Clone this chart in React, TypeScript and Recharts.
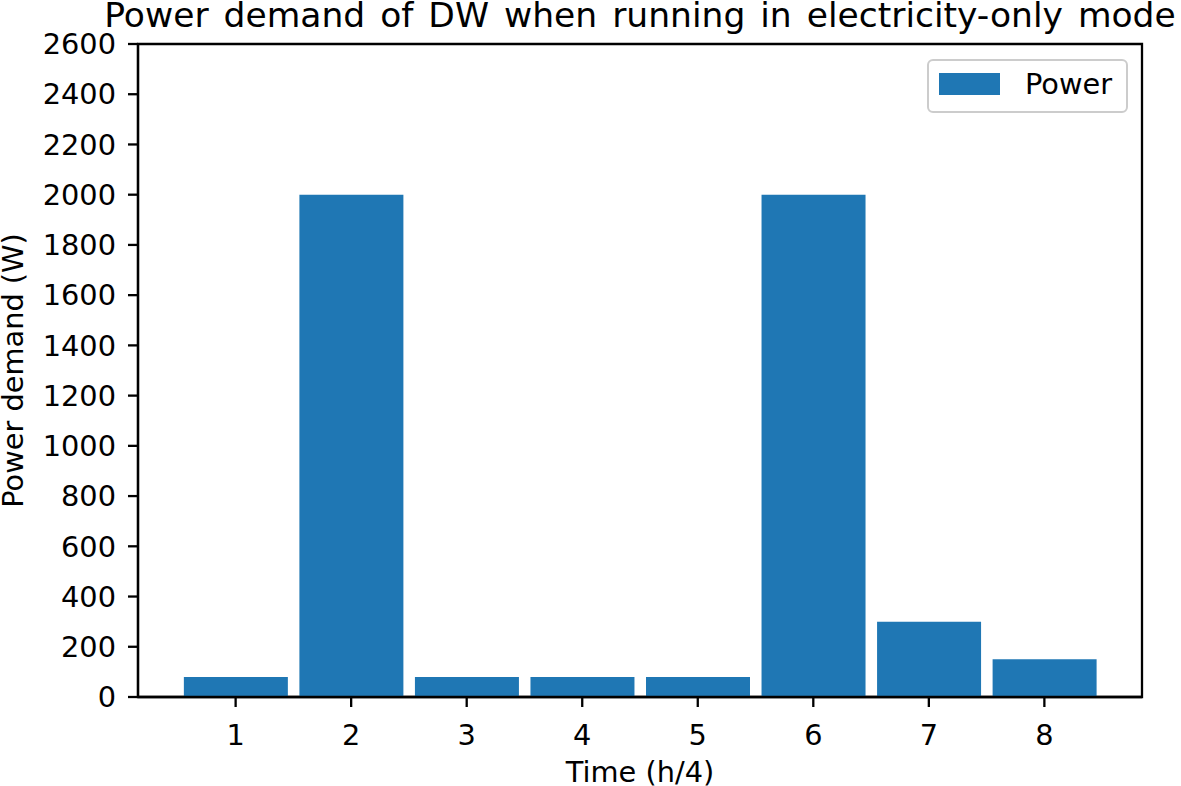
import React from 'react';
import { BarChart, Bar, XAxis, YAxis, Legend, Label, ReferenceArea } from 'recharts';

const timeSlots = [1, 2, 3, 4, 5, 6, 7, 8];
const powerValues = [80, 2000, 80, 80, 80, 2000, 300, 150];
const yTicks = [0, 200, 400, 600, 800, 1000, 1200, 1400, 1600, 1800, 2000, 2200, 2400, 2600];
const xTicks = [1, 2, 3, 4, 5, 6, 7, 8];
const seriesName = 'Power';
const titleText = 'Power demand of DW when running in electricity-only mode';
const xLabel = 'Time (h/4)';
const yLabel = 'Power demand (W)';

const data = timeSlots.map((t, i) => ({ t, power: powerValues[i] }));

const FONT = '"DejaVu Sans", sans-serif';
const BLUE = '#1f77b4';

const LegendBox = () => (
  <div
    style={{
      position: 'relative',
      boxSizing: 'border-box',
      width: 201,
      height: 54,
      border: '2px solid #cccccc',
      borderRadius: 6,
      background: 'rgba(255,255,255,0.8)',
      fontFamily: FONT,
    }}
  >
    <div style={{ position: 'absolute', left: 10, top: 12, width: 61, height: 22, background: BLUE }} />
    <div
      style={{
        position: 'absolute',
        left: 96,
        top: 8,
        fontSize: 28.8,
        lineHeight: '30px',
        color: '#000',
        whiteSpace: 'nowrap',
      }}
    >
      {seriesName}
    </div>
  </div>
);

export default function App() {
  return (
    <div style={{ position: 'absolute', left: 0, top: 0, width: 1181, height: 786, background: '#fff' }}>
      <BarChart
        width={1181}
        height={786}
        data={data}
        margin={{ top: 44, right: 39, bottom: 0, left: 0 }}
        barCategoryGap="10%"
      >
        <text
          x={640}
          y={27}
          textAnchor="middle"
          fontFamily={FONT}
          fontSize={34.5}
          fill="#000"
          style={{ wordSpacing: '4px' }}
        >
          {titleText}
        </text>
        <XAxis
          dataKey="t"
          type="number"
          domain={[0.155, 8.845]}
          ticks={xTicks}
          allowDataOverflow
          height={89}
          tickSize={10}
          tickMargin={18}
          axisLine={{ stroke: '#000', strokeWidth: 2.3 }}
          tickLine={{ stroke: '#000', strokeWidth: 2.3 }}
          tick={{ fill: '#000', fontSize: 28.8, fontFamily: FONT }}
          interval={0}
        >
          <Label
            content={(props: any) => {
              const vb = props.viewBox || { x: 138, y: 697, width: 1004, height: 89 };
              return (
                <text
                  x={vb.x + vb.width / 2}
                  y={782}
                  textAnchor="middle"
                  fontFamily={FONT}
                  fontSize={28.8}
                  fill="#000"
                >
                  {xLabel}
                </text>
              );
            }}
          />
        </XAxis>
        <YAxis
          type="number"
          domain={[0, 2600]}
          ticks={yTicks}
          width={138}
          tickSize={10}
          tickMargin={12}
          axisLine={{ stroke: '#000', strokeWidth: 2.3 }}
          tickLine={{ stroke: '#000', strokeWidth: 2.3 }}
          tick={{ fill: '#000', fontSize: 28.8, fontFamily: FONT }}
          interval={0}
        >
          <Label
            content={(props: any) => {
              const vb = props.viewBox || { x: 0, y: 44, width: 138, height: 653 };
              const cx = 23;
              const cy = vb.y + vb.height / 2;
              return (
                <text
                  x={cx}
                  y={cy}
                  textAnchor="middle"
                  transform={`rotate(-90, ${cx}, ${cy})`}
                  fontFamily={FONT}
                  fontSize={28.8}
                  fill="#000"
                >
                  {yLabel}
                </text>
              );
            }}
          />
        </YAxis>
        <Bar dataKey="power" name={seriesName} fill={BLUE} barSize={104} isAnimationActive={false} />
        <ReferenceArea
          x1={0.155}
          x2={8.845}
          y1={0}
          y2={2600}
          fill="none"
          fillOpacity={0}
          stroke="#000"
          strokeWidth={2.3}
          ifOverflow="visible"
        />
        <Legend
          layout="vertical"
          align="center"
          verticalAlign="middle"
          wrapperStyle={{ left: 927, top: 59, width: 201, height: 54 }}
          content={() => <LegendBox />}
        />
      </BarChart>
    </div>
  );
}
